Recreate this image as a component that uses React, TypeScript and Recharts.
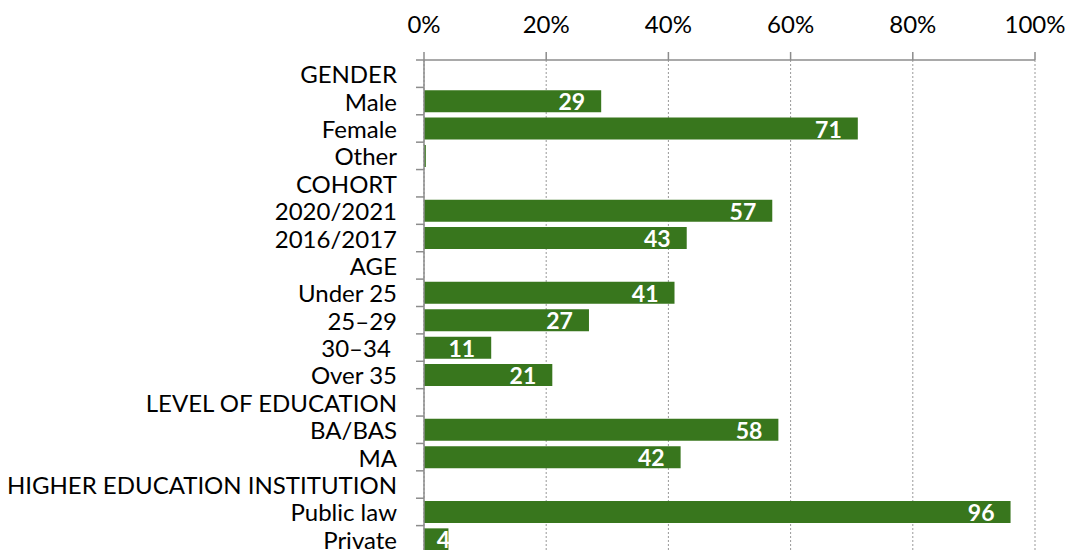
import { BarChart, Bar, XAxis, YAxis, CartesianGrid, LabelList } from "recharts";

const categories = [
  "GENDER",
  "Male",
  "Female",
  "Other",
  "COHORT",
  "2020/2021",
  "2016/2017",
  "AGE",
  "Under 25",
  "25–29",
  "30–34\u00A0",
  "Over 35",
  "LEVEL OF EDUCATION",
  "BA/BAS",
  "MA",
  "HIGHER EDUCATION INSTITUTION",
  "Public law",
  "Private",
];
const shares: (number | null)[] = [
  null, 29, 71, 0.3, null, 57, 43, null, 41, 27, 11, 21, null, 58, 42, null, 96, 4,
];
const xTicks = [0, 20, 40, 60, 80, 100];

const data = categories.map((name, i) => ({ name, value: shares[i] }));

const FONT = "Lato, 'Open Sans', sans-serif";
const AXIS_GREY = "#8c8c8c";
const GREEN = "#38761D";
const TICK_SIZE = 8;
const TICK_MARGIN = 19;

const CHART_H = 560;
const MARGIN = { top: 0, right: 33, bottom: 7, left: 0 };
const X_AXIS_H = 60;
const BAND = (CHART_H - MARGIN.top - MARGIN.bottom - X_AXIS_H) / categories.length;

function CategoryTick(props: any) {
  const { x, y, payload } = props;
  const axisX = x + TICK_SIZE + TICK_MARGIN;
  const lineY = y - BAND / 2;
  return (
    <g>
      <line x1={axisX - TICK_SIZE} x2={axisX} y1={lineY} y2={lineY} stroke={AXIS_GREY} strokeWidth={1.5} />
      <text
        x={x}
        y={y}
        textAnchor="end"
        dominantBaseline="central"
        fontFamily={FONT}
        fontSize={24}
        fill="#000"
      >
        {payload.value}
      </text>
    </g>
  );
}

function ValueLabel(props: any) {
  const { x, y, width, height, value } = props;
  if (value == null || value < 1) return null;
  const endX = Math.max(x + width - 16, x + 26);
  return (
    <text
      x={endX}
      y={y + height / 2}
      textAnchor="end"
      dominantBaseline="central"
      fontFamily={FONT}
      fontWeight="bold"
      fontSize={23}
      fill="#fff"
    >
      {value}
    </text>
  );
}

export default function App() {
  return (
    <div style={{ position: "absolute", left: 0, top: 0, background: "#fff" }}>
      <BarChart
        width={1068}
        height={CHART_H}
        data={data}
        layout="vertical"
        margin={MARGIN}
        barCategoryGap="10%"
      >
        <CartesianGrid horizontal={false} stroke="#999" strokeDasharray="2 2" />
        <XAxis
          type="number"
          orientation="top"
          domain={[0, 100]}
          ticks={xTicks}
          interval={0}
          height={X_AXIS_H}
          tickFormatter={(v) => `${v}%`}
          tickSize={TICK_SIZE}
          tickMargin={TICK_MARGIN}
          axisLine={{ stroke: AXIS_GREY, strokeWidth: 1.5 }}
          tickLine={{ stroke: AXIS_GREY, strokeWidth: 1.5 }}
          tick={{ fontFamily: FONT, fontSize: 24, fill: "#000" }}
        />
        <YAxis
          type="category"
          dataKey="name"
          width={424}
          interval={0}
          tickSize={TICK_SIZE}
          tickMargin={TICK_MARGIN}
          tickLine={false}
          axisLine={{ stroke: AXIS_GREY, strokeWidth: 1.5 }}
          tick={<CategoryTick />}
        />
        <Bar dataKey="value" fill={GREEN} isAnimationActive={false}>
          <LabelList dataKey="value" content={<ValueLabel />} />
        </Bar>
      </BarChart>
    </div>
  );
}
